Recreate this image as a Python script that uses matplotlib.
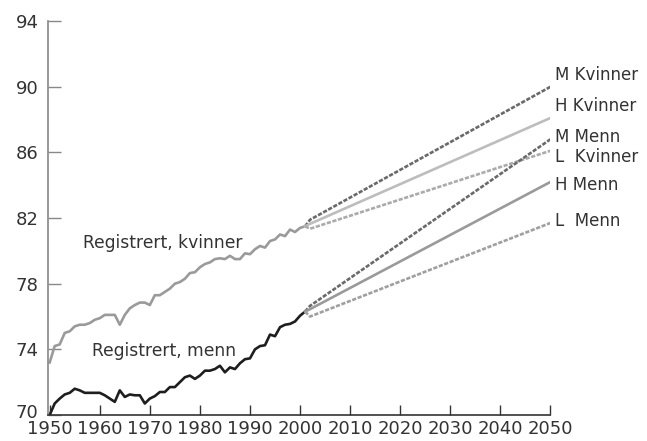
import numpy as np
import matplotlib
matplotlib.use("Agg")
import matplotlib.pyplot as plt
import matplotlib.transforms as mtransforms

plt.rcParams['font.family'] = ['DejaVu Sans']

########################## data ##########################
years_reg = list(range(1950, 2002))
kvinner_reg = [73.2, 74.2, 74.3, 75.0, 75.1, 75.4, 75.5, 75.5, 75.6, 75.8,
               75.9, 76.1, 76.1, 76.1, 75.5, 76.1, 76.5, 76.7, 76.85, 76.85,
               76.7, 77.3, 77.3, 77.5, 77.7, 78.0, 78.1, 78.3, 78.65, 78.7,
               79.0, 79.2, 79.3, 79.5, 79.55, 79.5, 79.7, 79.5, 79.5, 79.85,
               79.8, 80.1, 80.3, 80.2, 80.6, 80.7, 81.0, 80.9, 81.3, 81.15,
               81.4, 81.5]
menn_reg = [70.0, 70.7, 71.0, 71.25, 71.35, 71.6, 71.5, 71.35, 71.35, 71.35,
            71.35, 71.2, 71.0, 70.8, 71.5, 71.1, 71.25, 71.2, 71.2, 70.7,
            71.0, 71.15, 71.4, 71.4, 71.7, 71.7, 72.0, 72.3, 72.4, 72.2,
            72.4, 72.7, 72.7, 72.8, 73.0, 72.6, 72.9, 72.8, 73.15, 73.4,
            73.45, 74.0, 74.2, 74.25, 74.9, 74.8, 75.35, 75.5, 75.55, 75.7,
            76.05, 76.3]

years_proj = [2001, 2002, 2050]
m_kvinner = [81.5, 81.9, 90.0]
h_kvinner = [81.5, 81.65, 88.1]
l_kvinner = [81.5, 81.35, 86.1]
m_menn = [76.3, 76.65, 86.8]
h_menn = [76.3, 76.45, 84.2]
l_menn = [76.3, 76.0, 81.7]

x_ticks = list(range(1950, 2051, 10))
y_ticks = [70, 74, 78, 82, 86, 90, 94]

########################## plot ##########################
fig = plt.figure(figsize=(6.47, 4.41), dpi=100)
ax = fig.add_axes([0.0737, 0.059, 0.777, 0.893])

lw = 1.9
ax.plot(years_reg, kvinner_reg, color='#9a9a9a', lw=lw, solid_joinstyle='round')
ax.plot(years_reg, menn_reg, color='#1e1e1e', lw=lw, solid_joinstyle='round')

ax.plot(years_proj, m_kvinner, color='#6a6a6a', lw=lw, ls=(0, (1.6, 0.6)))
ax.plot(years_proj, h_kvinner, color='#bdbdbd', lw=lw)
ax.plot(years_proj, l_kvinner, color='#ababab', lw=lw, ls=(0, (1.6, 0.6)))
ax.plot(years_proj, m_menn, color='#6a6a6a', lw=lw, ls=(0, (1.6, 0.6)))
ax.plot(years_proj, h_menn, color='#9a9a9a', lw=lw)
ax.plot(years_proj, l_menn, color='#a0a0a0', lw=lw, ls=(0, (1.6, 0.6)))

fs = 12
ax.text(1956.7, 80.5, "Registrert, kvinner", fontsize=12.3, color='#333333', va='center')
ax.text(1958.5, 73.9, "Registrert, menn", fontsize=12.3, color='#333333', va='center')

labels = ["M Kvinner", "H Kvinner", "M Menn", "L  Kvinner", "H Menn", "L  Menn"]
label_y = [90.7, 88.8, 86.95, 85.75, 84.0, 81.8]
for t, y in zip(labels, label_y):
    ax.text(2051, y, t, fontsize=fs, color='#333333', va='center', clip_on=False)

ax.set_xlim(1949.6, 2050)
ax.set_ylim(70, 94)
ax.set_xticks(x_ticks)
ax.set_yticks(y_ticks)
ax.tick_params(axis='both', direction='in', labelsize=13, labelcolor='#333333')
ax.tick_params(axis='y', length=9, width=1, color='#888888', pad=6.5)
ax.tick_params(axis='x', length=7.5, width=1, color='#333333', pad=3.5)

# lift the "70" label a little so it clears "1950"
lab70 = ax.get_yticklabels()[0]
lab70.set_transform(lab70.get_transform() +
                    mtransforms.ScaledTranslation(0, 3 / 72, fig.dpi_scale_trans))

ax.spines['top'].set_visible(False)
ax.spines['right'].set_visible(False)
ax.spines['left'].set_color('#888888')
ax.spines['bottom'].set_color('#333333')
ax.spines['left'].set_linewidth(1.2)
ax.spines['bottom'].set_linewidth(1.2)

plt.savefig("out.png", dpi=100)
